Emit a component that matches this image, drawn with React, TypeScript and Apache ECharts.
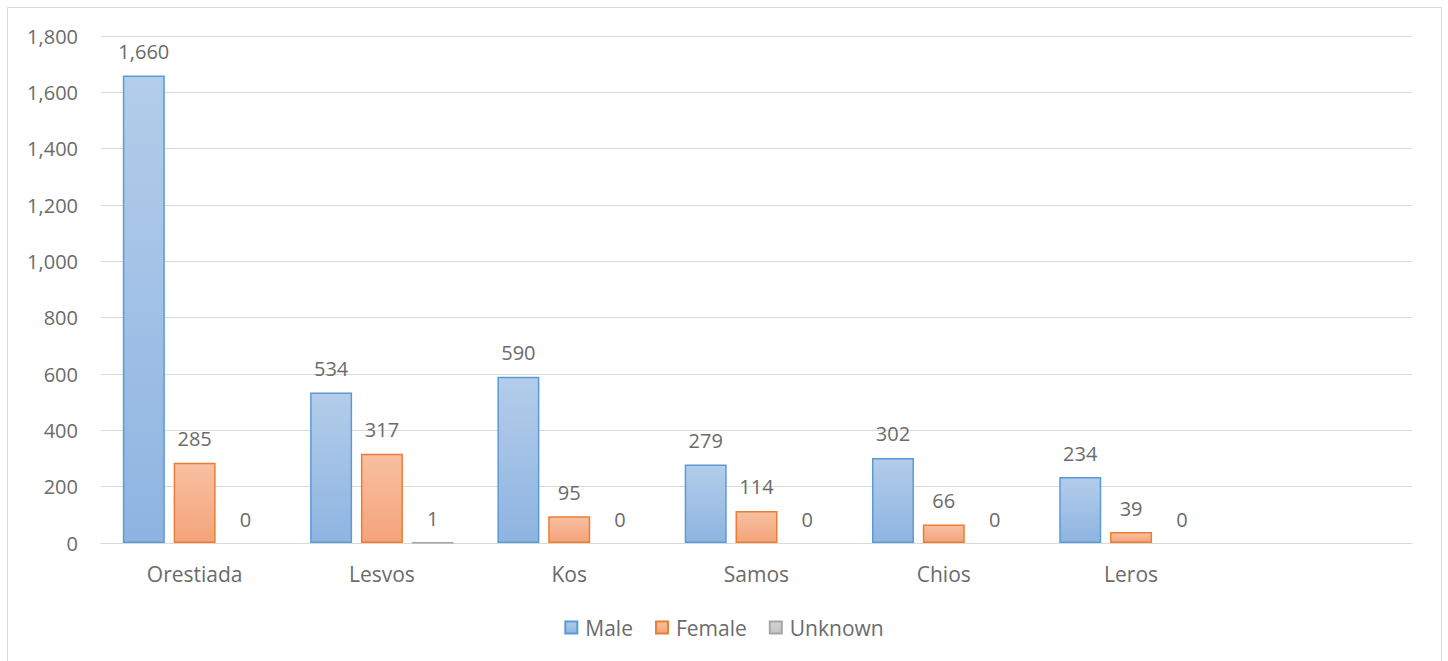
import React, { useEffect, useRef } from "react";
import * as echarts from "echarts";

const categories = ["Orestiada", "Lesvos", "Kos", "Samos", "Chios", "Leros", ""];
const male = [1660, 534, 590, 279, 302, 234, null];
const female = [285, 317, 95, 114, 66, 39, null];
const unknown = [0, 1, 0, 0, 0, 0, null];
const seriesNames = ["Male", "Female", "Unknown"];

const FONT = "'Open Sans', sans-serif";
const TEXT = "#6b6b6b";

function grad(top: string, bottom: string) {
  return new echarts.graphic.LinearGradient(0, 0, 0, 1, [
    { offset: 0, color: top },
    { offset: 1, color: bottom },
  ]);
}

// zero-height bars show no outline
function prep(arr: (number | null)[]) {
  return arr.map((v) => (v === 0 ? { value: 0, itemStyle: { borderWidth: 0, opacity: 0 } } : v));
}

export default function App() {
  const ref = useRef<HTMLDivElement>(null);
  useEffect(() => {
    if (!ref.current) return;
    const chart = echarts.init(ref.current, undefined, { renderer: "svg" });
    const label = {
      show: true,
      position: "top" as const,
      distance: 14,
      color: TEXT,
      fontFamily: FONT,
      fontSize: 20,
      opacity: 1,
      formatter: (p: any) => (p.value == null ? "" : Number(p.value).toLocaleString("en-US")),
    };
    chart.setOption({
      animation: false,
      graphic: [
        {
          type: "rect",
          shape: { x: 7.5, y: 7.5, width: 1434, height: 700 },
          style: { fill: "none", stroke: "#d9d9d9", lineWidth: 1 },
          silent: true,
        },
      ],
      grid: { left: 101, right: 36, top: 36, bottom: 118, containLabel: false },
      legend: {
        top: 612,
        left: "center",
        itemWidth: 12,
        itemHeight: 12,
        itemGap: 22,
        textStyle: { color: TEXT, fontFamily: FONT, fontSize: 21, padding: [0, 0, 0, 3] },
        icon: "rect",
        data: seriesNames,
      },
      xAxis: {
        type: "category",
        data: categories,
        axisLine: { lineStyle: { color: "#d9d9d9" } },
        axisTick: { show: false },
        axisLabel: { color: TEXT, fontFamily: FONT, fontSize: 21, margin: 20 },
      },
      yAxis: {
        type: "value",
        min: 0,
        max: 1800,
        interval: 200,
        axisLine: { show: false },
        axisTick: { show: false },
        splitLine: { lineStyle: { color: "#d9d9d9" } },
        axisLabel: {
          color: TEXT,
          fontFamily: FONT,
          fontSize: 20,
          margin: 23,
          formatter: (v: number) => v.toLocaleString("en-US"),
        },
      },
      series: [
        {
          name: seriesNames[0],
          type: "bar",
          data: prep(male),
          barWidth: 42,
          barGap: "21%",
          itemStyle: { color: grad("#b3cdea", "#8eb4e1"), borderColor: "#5b9bd5", borderWidth: 1.5 },
          label,
        },
        {
          name: seriesNames[1],
          type: "bar",
          data: prep(female),
          barWidth: 42,
          barGap: "21%",
          itemStyle: { color: grad("#f8c0a2", "#f4a47a"), borderColor: "#ed7d31", borderWidth: 1.5 },
          label,
        },
        {
          name: seriesNames[2],
          type: "bar",
          data: prep(unknown),
          barWidth: 42,
          barGap: "21%",
          itemStyle: { color: grad("#d4d4d4", "#c3c3c3"), borderColor: "#a5a5a5", borderWidth: 1.5 },
          label,
        },
      ],
    });
    return () => chart.dispose();
  }, []);
  return (
    <div
      ref={ref}
      style={{ position: "fixed", left: 0, top: 0, width: 1448, height: 661, background: "#fff" }}
    />
  );
}
